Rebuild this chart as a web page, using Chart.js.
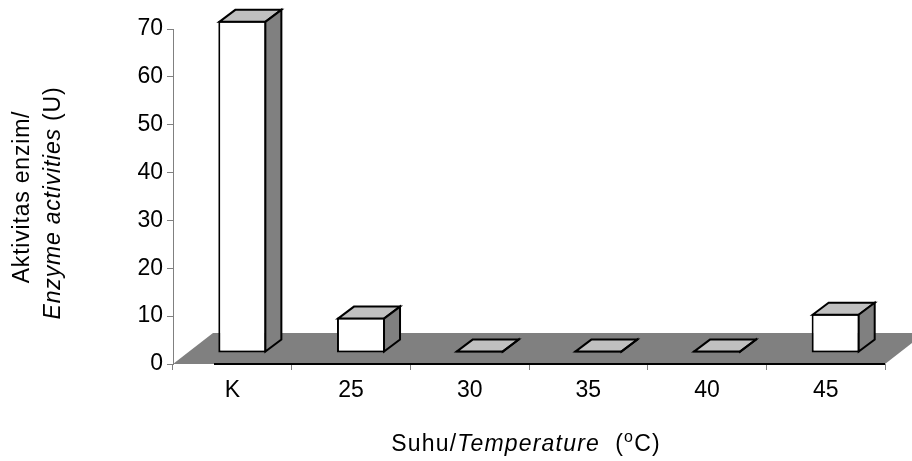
<!DOCTYPE html>
<html>
<head>
<meta charset="utf-8">
<script src="https://cdn.jsdelivr.net/npm/chart.js@4/dist/chart.umd.min.js"></script>
<style>
  body { margin: 0; background: #fff; }
  canvas { display: block; }
</style>
</head>
<body>
<canvas id="enzymChart" width="912" height="461"></canvas>
<script>
// data
const categories = ['K', '25', '30', '35', '40', '45'];
const activity = [69.4, 7.4, 0.5, 0.5, 0.5, 8.2];
const yTicks = [0, 10, 20, 30, 40, 50, 60, 70];

const FONT = "'Liberation Sans', Arial, sans-serif";
const FONT_SIZE = 23;

// fake 3D: floor slab + top/side faces, Excel style
const DEPTH_DX = 40, DEPTH_DY = -31;   // floor depth
const BAR_DX = 10, BAR_DY = -11;       // where the bars stand on the floor
const FACE_DX = 16, FACE_DY = -12;     // bar depth

const threeD = {
  id: 'threeD',
  beforeDatasetsDraw(chart) {
    const ctx = chart.ctx;
    const x = chart.scales.x, y = chart.scales.y;
    const y0 = y.getPixelForValue(0);
    ctx.save();
    ctx.fillStyle = '#808080';
    ctx.beginPath();
    ctx.moveTo(x.left, y0);
    ctx.lineTo(x.left + DEPTH_DX, y0 + DEPTH_DY);
    ctx.lineTo(x.right + DEPTH_DX, y0 + DEPTH_DY);
    ctx.lineTo(x.right, y0);
    ctx.closePath();
    ctx.fill();
    ctx.strokeStyle = '#000';
    ctx.lineWidth = 2;
    ctx.beginPath();
    ctx.moveTo(x.left + DEPTH_DX + 1, y0);
    ctx.lineTo(x.right, y0);
    ctx.stroke();
    ctx.restore();

    ctx.save();
    ctx.translate(BAR_DX, BAR_DY);
  },
  afterDatasetsDraw(chart) {
    const ctx = chart.ctx;
    const meta = chart.getDatasetMeta(0);
    ctx.lineWidth = 2;
    ctx.strokeStyle = '#000';
    ctx.lineJoin = 'miter';
    meta.data.forEach(bar => {
      const p = bar.getProps(['x', 'y', 'base', 'width']);
      const l = p.x - p.width / 2 + 1, r = p.x + p.width / 2 - 1;
      const t = p.y + 1, b = p.base - 1;
      // top
      ctx.fillStyle = '#c0c0c0';
      ctx.beginPath();
      ctx.moveTo(l, t);
      ctx.lineTo(l + FACE_DX, t + FACE_DY);
      ctx.lineTo(r + FACE_DX, t + FACE_DY);
      ctx.lineTo(r, t);
      ctx.closePath();
      ctx.fill();
      ctx.stroke();
      // side
      ctx.fillStyle = '#808080';
      ctx.beginPath();
      ctx.moveTo(r, t);
      ctx.lineTo(r + FACE_DX, t + FACE_DY);
      ctx.lineTo(r + FACE_DX, b + FACE_DY);
      ctx.lineTo(r, b);
      ctx.closePath();
      ctx.fill();
      ctx.stroke();
    });
    ctx.restore();
  }
};

// draw a line of mixed-style text pieces starting at x
function setFont(ctx, pc) {
  ctx.font = (pc.italic ? 'italic ' : '') + (pc.size || FONT_SIZE) + 'px ' + FONT;
}
function drawPieces(ctx, pieces, x, y) {
  pieces.forEach(pc => {
    setFont(ctx, pc);
    ctx.fillText(pc.text, x, y + (pc.rise || 0));
    x += ctx.measureText(pc.text).width;
  });
}
function piecesWidth(ctx, pieces) {
  let w = 0;
  pieces.forEach(pc => {
    setFont(ctx, pc);
    w += ctx.measureText(pc.text).width;
  });
  return w;
}

const axisTitles = {
  id: 'axisTitles',
  afterDraw(chart) {
    const ctx = chart.ctx;
    ctx.save();
    ctx.fillStyle = '#000';
    ctx.textBaseline = 'alphabetic';
    ctx.textAlign = 'left';
    ctx.letterSpacing = '1.2px';

    const xTitle = [
      { text: 'Suhu/' },
      { text: 'Temperature', italic: true },
      { text: '  (' },
      { text: 'o', size: 16, rise: -9 },
      { text: 'C)' }
    ];
    const xw = piecesWidth(ctx, xTitle);
    drawPieces(ctx, xTitle, 526 - xw / 2, 451);

    ctx.letterSpacing = '0.8px';
    const line1 = [{ text: 'Aktivitas enzim/' }];
    const line2 = [{ text: 'Enzyme activities', italic: true }, { text: ' (U)' }];
    ctx.rotate(-Math.PI / 2);
    const w1 = piecesWidth(ctx, line1);
    drawPieces(ctx, line1, -197 - w1 / 2, 29);
    const w2 = piecesWidth(ctx, line2);
    drawPieces(ctx, line2, -203 - w2 / 2, 60);
    ctx.restore();
  }
};

new Chart(document.getElementById('enzymChart'), {
  type: 'bar',
  data: {
    labels: categories,
    datasets: [{
      data: activity,
      backgroundColor: '#ffffff',
      borderColor: '#000000',
      borderWidth: 2,
      borderSkipped: false,
      barPercentage: 0.405,
      categoryPercentage: 1,
      clip: false
    }]
  },
  options: {
    responsive: false,
    animation: false,
    events: [],
    layout: { padding: { top: 29, right: 27, left: 0, bottom: 0 } },
    plugins: { legend: { display: false }, tooltip: { enabled: false } },
    scales: {
      x: {
        grid: { offset: true, drawOnChartArea: false, tickLength: 6, color: '#808080' },
        border: { display: false },
        ticks: { color: '#000', font: { family: FONT, size: FONT_SIZE }, padding: 7, maxRotation: 0 },
        afterFit(scale) { scale.height = 97; }
      },
      y: {
        min: 0,
        max: 70,
        afterBuildTicks(scale) { scale.ticks = yTicks.map(v => ({ value: v })); },
        grid: { drawOnChartArea: false, tickLength: 6, color: '#808080' },
        border: { color: '#808080', width: 1 },
        ticks: { color: '#000', font: { family: FONT, size: FONT_SIZE }, padding: 4 },
        afterFit(scale) { scale.width = 173; }
      }
    }
  },
  plugins: [threeD, axisTitles]
});
</script>
</body>
</html>
